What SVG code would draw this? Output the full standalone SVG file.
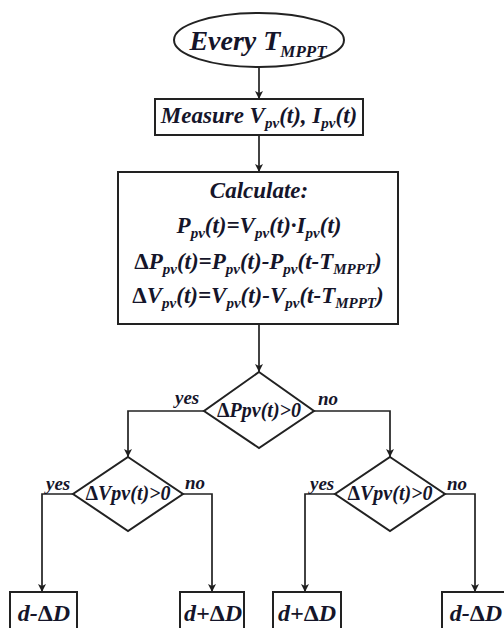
<svg xmlns="http://www.w3.org/2000/svg" width="504" height="628" viewBox="0 0 504 628">
  <defs>
    <marker id="arrow" viewBox="0 0 8 12" refX="8" refY="6" markerWidth="8" markerHeight="12" markerUnits="userSpaceOnUse" orient="auto">
      <path d="M0,2 L8,6 L0,10 L2,6 Z" fill="#1e1e1e"/>
    </marker>
    <style>
      .shape { fill: #ffffff; stroke: #222222; stroke-width: 2; }
      .link { fill: none; stroke: #222222; stroke-width: 1.7; marker-end: url(#arrow); }
      text { font-family: "Liberation Serif", "Times New Roman", serif; font-weight: bold; font-style: italic; fill: #15152a; }
      .c { text-anchor: middle; }
      .body { font-size: 23px; }
      .sub { font-size: 15px; }
      .dec { font-size: 20px; }
      .lbl { font-size: 19px; }
      .out { font-size: 24px; }
      .up { font-style: normal; }
    </style>
  </defs>

  <!-- connectors -->
  <g id="connectors">
    <line class="link" x1="259" y1="67" x2="259" y2="99"/>
    <line class="link" x1="259" y1="135" x2="259" y2="172"/>
    <line class="link" x1="259" y1="324" x2="259" y2="372"/>
    <polyline class="link" points="204,411 128,411 128,457"/>
    <polyline class="link" points="314,411 390,411 390,457"/>
    <polyline class="link" points="73,494 42,494 42,592"/>
    <polyline class="link" points="183,494 212,494 212,592"/>
    <polyline class="link" points="335,494 305,494 305,592"/>
    <polyline class="link" points="445,494 475,494 475,592"/>
    <text class="lbl" x="175" y="404">yes</text>
    <text class="lbl" x="318" y="405">no</text>
    <text class="lbl" x="46" y="490">yes</text>
    <text class="lbl" x="185" y="489">no</text>
    <text class="lbl" x="310" y="490">yes</text>
    <text class="lbl" x="447" y="490">no</text>
  </g>

  <!-- start -->
  <g id="start">
    <ellipse class="shape" cx="259" cy="40" rx="85" ry="27"/>
    <text class="c" x="258" y="50" font-size="28">Every T<tspan font-size="17" dy="7">MPPT</tspan></text>
  </g>

  <!-- measurement -->
  <g id="measure">
    <rect class="shape" x="155" y="99" width="208" height="36"/>
    <text class="c body" x="259" y="123">Measure V<tspan class="sub" dy="5">pv</tspan><tspan dy="-5">(t), I</tspan><tspan class="sub" dy="5">pv</tspan><tspan dy="-5">(t)</tspan></text>
  </g>

  <!-- calculation -->
  <g id="calculate">
    <rect class="shape" x="118" y="172" width="280" height="152"/>
    <text class="c body" x="259" y="198">Calculate:</text>
    <text class="c body" x="259" y="233">P<tspan class="sub" dy="5">pv</tspan><tspan dy="-5">(t)=V</tspan><tspan class="sub" dy="5">pv</tspan><tspan dy="-5">(t)·I</tspan><tspan class="sub" dy="5">pv</tspan><tspan dy="-5">(t)</tspan></text>
    <text class="c body" x="258" y="269"><tspan class="up">Δ</tspan>P<tspan class="sub" dy="5">pv</tspan><tspan dy="-5">(t)=P</tspan><tspan class="sub" dy="5">pv</tspan><tspan dy="-5">(t)-P</tspan><tspan class="sub" dy="5">pv</tspan><tspan dy="-5">(t-T</tspan><tspan class="sub" dy="5">MPPT</tspan><tspan dy="-5">)</tspan></text>
    <text class="c body" x="258" y="303"><tspan class="up">Δ</tspan>V<tspan class="sub" dy="5">pv</tspan><tspan dy="-5">(t)=V</tspan><tspan class="sub" dy="5">pv</tspan><tspan dy="-5">(t)-V</tspan><tspan class="sub" dy="5">pv</tspan><tspan dy="-5">(t-T</tspan><tspan class="sub" dy="5">MPPT</tspan><tspan dy="-5">)</tspan></text>
  </g>

  <!-- decisions -->
  <g id="check-dp">
    <polygon class="shape" points="259,372 314,411 259,448 204,411"/>
    <text class="c dec" x="259" y="417"><tspan class="up">Δ</tspan>Ppv(t)&gt;0</text>
  </g>
  <g id="check-dv-left">
    <polygon class="shape" points="128,457 183,494 128,531 73,494"/>
    <text class="c dec" x="128" y="500"><tspan class="up">Δ</tspan>Vpv(t)&gt;0</text>
  </g>
  <g id="check-dv-right">
    <polygon class="shape" points="390,457 445,494 390,531 335,494"/>
    <text class="c dec" x="390" y="500"><tspan class="up">Δ</tspan>Vpv(t)&gt;0</text>
  </g>

  <!-- duty-cycle updates -->
  <g id="dec-left">
    <rect class="shape" x="10" y="592" width="67" height="50"/>
    <text class="c out" x="44" y="621">d-<tspan class="up">Δ</tspan>D</text>
  </g>
  <g id="inc-left">
    <rect class="shape" x="180" y="592" width="64" height="50"/>
    <text class="c out" x="213" y="621">d+<tspan class="up">Δ</tspan>D</text>
  </g>
  <g id="inc-right">
    <rect class="shape" x="273" y="592" width="68" height="50"/>
    <text class="c out" x="307" y="621">d+<tspan class="up">Δ</tspan>D</text>
  </g>
  <g id="dec-right">
    <rect class="shape" x="442" y="592" width="70" height="50"/>
    <text class="c out" x="476" y="621">d-<tspan class="up">Δ</tspan>D</text>
  </g>
</svg>
